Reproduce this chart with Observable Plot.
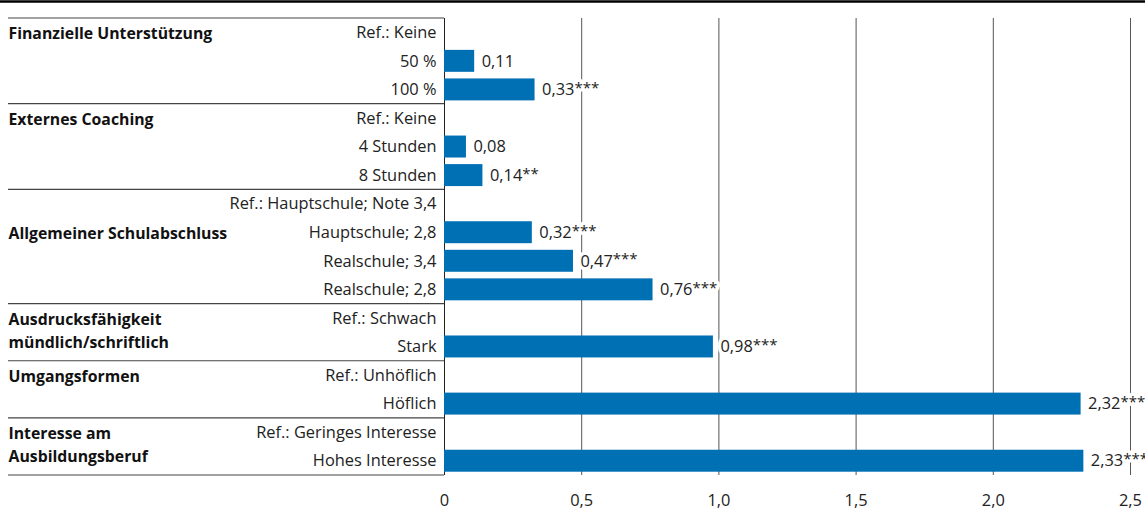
<!DOCTYPE html>
<html><head><meta charset="utf-8">
<script src="https://cdn.jsdelivr.net/npm/d3@7"></script>
<script src="https://cdn.jsdelivr.net/npm/@observablehq/plot@0.6"></script>
<style>body{margin:0;background:#fff}</style>
</head><body><div id="chart"></div>
<script>
const rows = ["Ref.: Keine","50 %","100 %","Ref.: Keine","4 Stunden","8 Stunden","Ref.: Hauptschule; Note 3,4","Hauptschule; 2,8","Realschule; 3,4","Realschule; 2,8","Ref.: Schwach","Stark","Ref.: Unhöflich","Höflich","Ref.: Geringes Interesse","Hohes Interesse"];
const values = [null,0.11,0.33,null,0.08,0.14,null,0.32,0.47,0.76,null,0.98,null,2.32,null,2.33];
const stars = ["","","***","","","**","","***","***","***","","***","","***","","***"];
const groups = ["Finanzielle Unterstützung","Externes Coaching","Allgemeiner Schulabschluss","Ausdrucksfähigkeit\nmündlich/schriftlich","Umgangsformen","Interesse am\nAusbildungsberuf"];
const groupStart = [0,3,6,10,12,14];
const groupLabelRow = [0,3,7,10,12,14];
const xTicks = [0,0.5,1,1.5,2,2.5];

const fmtTick = d => d === 0 ? "0" : d.toFixed(1).replace(".", ",");
const fmtVal = d => d.toFixed(2).replace(".", ",");

const rowData = rows.map((label, i) => ({i, label}));
const barData = values.map((value, i) => ({i, value, stars: stars[i]})).filter(d => d.value != null);
const groupData = groups.map((name, k) => ({name, row: groupLabelRow[k]}));

const FONT = "Open Sans";
const FS = 16.4;
const plot = Plot.plot({
  width: 1145, height: 511,
  marginLeft: 444, marginRight: 15, marginTop: 18, marginBottom: 36,
  x: {domain: [0, 2.5], axis: null, label: null},
  y: {domain: d3.range(rows.length), type: "band", padding: 0, round: false, axis: null},
  style: {fontFamily: FONT, fontSize: FS + "px", color: "#222", background: "#fff", overflow: "visible"},
  marks: [
    Plot.ruleX(xTicks.slice(1), {stroke: "#555", strokeWidth: 1}),
    Plot.ruleX([0], {stroke: "#222", strokeWidth: 1}),
    Plot.barX(barData, {x: "value", y: "i", fill: "#0070b5", insetTop: 3.3, insetBottom: 3.3}),
    Plot.text(barData, {x: "value", y: "i", text: d => fmtVal(d.value) + d.stars, dx: 7, textAnchor: "start",
      fill: "#222", fontSize: FS}),
    Plot.text(rowData, {y: "i", text: "label", frameAnchor: "left", dx: -8, textAnchor: "end", fill: "#222", fontSize: FS}),
    Plot.text(groupData, {y: "row", text: "name", frameAnchor: "left", dx: -436, textAnchor: "start",
      fontWeight: "bold", lineAnchor: "top", dy: -10, lineHeight: 1.45, fill: "#111", fontSize: 15.8}),
    Plot.axisX({ticks: xTicks, tickFormat: fmtTick, tickSize: 0, tickPadding: 19, fontSize: FS, color: "#222", label: null})
  ]
});

document.getElementById("chart").appendChild(plot);

// superscript stars, with a white halo copy behind each value label
d3.select(plot).selectAll("text").each(function() {
  const t = this.textContent;
  const m = /^(\d,\d\d)(\**)$/.exec(t);
  if (m) {
    const sel = d3.select(this);
    sel.text(null).attr("stroke", "none");
    sel.append("tspan").text(m[1]);
    if (m[2]) sel.append("tspan").attr("dy", "-0.15em").attr("font-size", "15px").text(m[2]);
    const halo = this.cloneNode(true);
    d3.select(halo).attr("fill", "white").attr("stroke", "white").attr("stroke-width", 7).attr("stroke-linejoin", "round");
    this.parentNode.insertBefore(halo, this);
  }
});

// group separators and top rule, positioned from the plot's scales
const ys = plot.scale("y"), xs = plot.scale("x");
const bounds = groupStart.map(s => ys.apply(s)).concat([ys.apply(rows.length - 1) + ys.bandwidth]);
const svg = d3.select(plot);
const x0 = xs.apply(0);
svg.append("g").selectAll("line").data(bounds).join("line")
  .attr("x1", 8).attr("x2", x0).attr("y1", d => d).attr("y2", d => d)
  .attr("stroke", "#444").attr("stroke-width", 1.2);
svg.append("line").attr("x1", 0).attr("x2", 1145).attr("y1", 1.5).attr("y2", 1.5)
  .attr("stroke", "#000").attr("stroke-width", 2.5);
</script>
</body></html>
